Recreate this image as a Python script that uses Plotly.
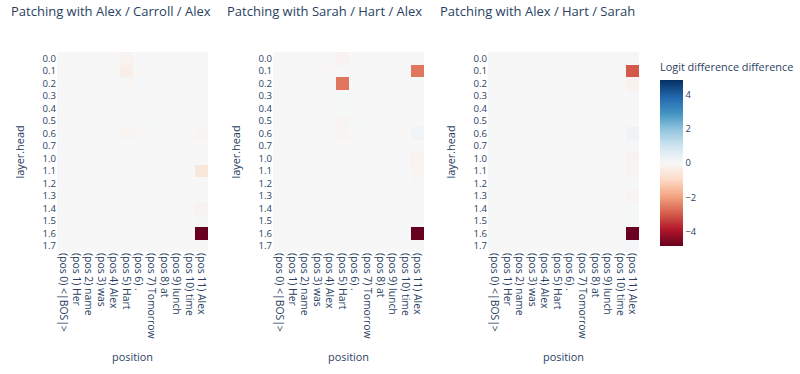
import plotly.graph_objects as go
import plotly.express as px

positions = ["(pos 0) <|BOS|>", "(pos 1) Her", "(pos 2) name", "(pos 3) was", "(pos 4) Alex",
             "(pos 5) Hart", "(pos 6) .", "(pos 7) Tomorrow", "(pos 8) at", "(pos 9) lunch",
             "(pos 10) time", "(pos 11) Alex"]
heads = ["0.0", "0.1", "0.2", "0.3", "0.4", "0.5", "0.6", "0.7",
         "1.0", "1.1", "1.2", "1.3", "1.4", "1.5", "1.6", "1.7"]
titles = ["Patching with Alex / Carroll / Alex",
          "Patching with Sarah / Hart / Alex",
          "Patching with Alex / Hart / Sarah"]

# Alex / Carroll / Alex
z_alex_carroll_alex = [
    [0, 0, 0, 0, 0, -0.15, 0, 0, 0, 0, 0, 0],
    [0, 0, 0, 0, 0, -0.3, 0, 0, 0, 0, 0, 0],
    [0, 0, 0, 0, 0, -0.05, 0.05, 0, 0, 0, 0, 0],
    [0, 0, 0, 0, 0, 0, 0, 0, 0, 0, 0, 0],
    [0, 0, 0, 0, 0, 0, 0, 0, 0, 0, 0, 0],
    [0, 0, 0, 0, 0, -0.03, 0.02, 0.05, 0, 0, 0, 0],
    [0, 0, 0, 0, 0, -0.12, -0.05, 0, 0, 0, 0, -0.1],
    [0, 0, 0, 0, 0, 0, 0, 0, 0, 0, 0, 0],
    [0, 0, 0, 0, 0, 0, 0, 0, 0, 0, 0, 0],
    [0, 0, 0, 0, 0, 0, 0, 0, 0, 0, 0, -0.55],
    [0, 0, 0, 0, 0, 0, 0, 0, 0, 0, 0, 0],
    [0, 0, 0, 0, 0, 0, 0, 0, 0, 0, 0, 0],
    [0, 0, 0, 0, 0, 0, 0, 0, 0, 0, 0, -0.15],
    [0, 0, 0, 0, 0, 0, 0, 0, 0, 0, 0, 0.08],
    [0, 0, 0, 0, 0, 0, 0, 0, 0, 0, 0, -4.85],
    [0, 0, 0, 0, 0, 0, 0, 0, 0, 0, 0, 0],
]

# Sarah / Hart / Alex
z_sarah_hart_alex = [
    [0, 0, 0, 0, 0, -0.15, 0, 0, 0, 0, 0, 0],
    [0, 0, 0, 0, -0.05, 0, 0, 0, 0, 0, 0, -2.6],
    [0, 0, 0, 0, 0, -2.6, 0.02, 0, 0, 0, 0, 0],
    [0, 0, 0, 0, 0, 0.02, 0, 0, 0, 0, 0, 0],
    [0, 0, 0, 0, 0, 0.02, 0, 0, 0, 0, 0, 0],
    [0, 0, 0, 0, 0, -0.1, 0.04, 0.02, 0.03, 0, 0, 0],
    [0, 0, 0, 0, -0.03, -0.1, 0, 0, -0.05, 0, 0, 0.15],
    [0, 0, 0, 0, 0, 0, 0, 0, 0, 0, 0, 0],
    [0, 0, 0, 0, 0, 0, 0, 0, 0, 0, 0, -0.15],
    [0, 0, 0, 0, 0, 0, 0, 0, 0, 0, 0, -0.12],
    [0, 0, 0, 0, 0, 0, 0, 0, 0, 0, 0, -0.02],
    [0, 0, 0, 0, 0, 0, 0, 0, 0, 0, 0, -0.05],
    [0, 0, 0, 0, 0, 0, 0, 0, 0, 0, 0, -0.04],
    [0, 0, 0, 0, 0, 0, 0, 0, 0, 0, 0, 0],
    [0, 0, 0, 0, 0, 0, 0, 0, 0, 0, 0, -4.85],
    [0, 0, 0, 0, 0, 0, 0, 0, 0, 0, 0, 0.03],
]

# Alex / Hart / Sarah
z_alex_hart_sarah = [
    [0, 0, 0, 0, 0, 0, 0, 0, 0, 0, 0, 0.03],
    [0, 0, 0, 0, 0, 0, 0, 0, 0, 0, 0, -3.0],
    [0, 0, 0, 0, 0, 0, 0, 0, 0, 0, 0, -0.2],
    [0, 0, 0, 0, 0, 0, 0, 0, 0, 0, 0, 0.03],
    [0, 0, 0, 0, 0, 0, 0, 0, 0, 0, 0, 0],
    [0, 0, 0, 0, 0, 0, 0, 0, 0, 0, 0, 0],
    [0, 0, 0, 0, 0, 0, 0, 0, 0, 0, 0, 0.2],
    [0, 0, 0, 0, 0, 0, 0, 0, 0, 0, 0, 0.03],
    [0, 0, 0, 0, 0, 0, 0, 0, 0, 0, 0, -0.15],
    [0, 0, 0, 0, 0, 0, 0, 0, 0, 0, 0, -0.12],
    [0, 0, 0, 0, 0, 0, 0, 0, 0, 0, 0, 0.02],
    [0, 0, 0, 0, 0, 0, 0, 0, 0, 0, 0, -0.1],
    [0, 0, 0, 0, 0, 0, 0, 0, 0, 0, 0, 0.02],
    [0, 0, 0, 0, 0, 0, 0, 0, 0, 0, 0, 0.02],
    [0, 0, 0, 0, 0, 0, 0, 0, 0, 0, 0, -4.8],
    [0, 0, 0, 0, 0, 0, 0, 0, 0, 0, 0, 0.05],
]

zs = [z_alex_carroll_alex, z_sarah_hart_alex, z_alex_hart_sarah]

W, H = 800, 374
x_px = [(57, 208), (273, 424), (488, 639)]
y_px = (52, 252)
title_cx = [111, 324, 537]

fig = go.Figure()
for i, z in enumerate(zs):
    n = "" if i == 0 else str(i + 1)
    fig.add_trace(go.Heatmap(z=z, x=positions, y=heads, coloraxis="coloraxis",
                             xaxis="x" + n, yaxis="y" + n))
    x0, x1 = x_px[i]
    fig.update_layout(**{
        "xaxis" + n: dict(domain=[x0 / W, x1 / W], anchor="y" + n, tickangle=90,
                          tickmode="array", tickvals=positions, ticktext=positions,
                          showgrid=False, zeroline=False, automargin=False,
                          tickfont=dict(size=10.4), title=dict(text="position", font=dict(size=10.9))),
        "yaxis" + n: dict(domain=[1 - y_px[1] / H, 1 - y_px[0] / H], anchor="x" + n,
                          autorange="reversed", showgrid=False, zeroline=False, automargin=False,
                          tickfont=dict(size=9.6), title=dict(text="layer.head", font=dict(size=10.9))),
    })
    fig.add_annotation(text=titles[i], x=title_cx[i] / W, y=1 - 11 / H, xref="paper", yref="paper",
                       xanchor="center", yanchor="middle", showarrow=False, font=dict(size=13))

fig.update_layout(
    width=W, height=H,
    margin=dict(l=0, r=0, t=0, b=0, autoexpand=False),
    template="plotly",
    paper_bgcolor="white",
    coloraxis=dict(
        colorscale=px.colors.diverging.RdBu, cmin=-4.85, cmax=4.85,
        colorbar=dict(title=dict(text="Logit difference difference", side="top", font=dict(size=10.9)),
                      x=660 / W, xanchor="left", xpad=0, ypad=0,
                      y=1 - 60 / H, yanchor="top", len=186 / H, lenmode="fraction",
                      thickness=23, outlinewidth=0, tickfont=dict(size=9.4)),
    ),
)

fig.write_html("out.html", config={"displayModeBar": False},
               post_script="document.body.style.margin='0';")
